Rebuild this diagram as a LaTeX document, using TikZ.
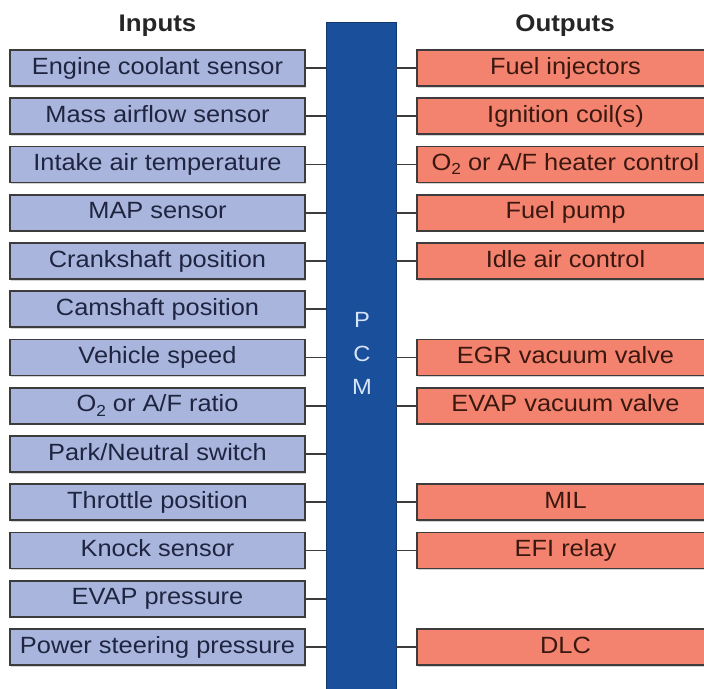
\documentclass[tikz,border=0pt]{standalone}
\usepackage{fontspec}
\setmainfont{Liberation Sans}[FakeStretch=1.08]
\usetikzlibrary{shadows}

\definecolor{infill}{HTML}{A9B5DD}
\definecolor{outfill}{HTML}{F3836E}
\definecolor{intext}{HTML}{1F2540}
\definecolor{outtext}{HTML}{3A1810}
\definecolor{edge}{HTML}{3C3C3C}
\definecolor{pcmblue}{HTML}{1A4F9C}
\definecolor{pcmtext}{HTML}{D6E4F7}

\newcommand{\boxfont}{\fontsize{23.5}{28}\selectfont}
\newcommand{\Osub}{O\raisebox{-0.35ex}{\fontsize{16}{16}\selectfont 2}}

\tikzset{
  boxbase/.style={rectangle, draw=edge, line width=1.6pt, inner sep=0pt,
    minimum height=36pt, text height=17pt, text depth=5pt, font=\boxfont,
    drop shadow={shadow xshift=0.6pt, shadow yshift=-1.6pt, opacity=0.35}},
  inbox/.style={boxbase, fill=infill, text=intext, minimum width=295pt},
  outbox/.style={boxbase, fill=outfill, text=outtext, minimum width=297pt},
  wire/.style={draw=edge, line width=1.7pt},
  title/.style={font=\fontsize{24}{28}\selectfont\bfseries, text=black!85},
  pcmletter/.style={font=\fontsize{22}{24}\selectfont, text=pcmtext},
}

\begin{document}
\begin{tikzpicture}[x=1pt, y=-1pt]
\useasboundingbox (0,0) rectangle (704,688);

% central control module bar
\node[rectangle, fill=pcmblue, draw=pcmblue!70!black, line width=0.8pt,
      minimum width=70pt, minimum height=690pt, inner sep=0pt, anchor=north]
      (pcm) at (361,22) {};
\node[pcmletter] (pcmP) at (362,320) {P};
\node[pcmletter] (pcmC) at (362,354) {C};
\node[pcmletter] (pcmM) at (362,387) {M};

% column headings
\node[title] (inhead) at (157.5,25.5) {Inputs};
\node[title] (outhead) at (565,25.5) {Outputs};

% sensor inputs
\foreach \i/\t in {0/{Engine coolant sensor}, 1/{Mass airflow sensor},
    2/{Intake air temperature}, 3/{MAP sensor}, 4/{Crankshaft position},
    5/{Camshaft position}, 6/{Vehicle speed}, 7/{\Osub{} or A/F ratio},
    8/{Park/Neutral switch}, 9/{Throttle position}, 10/{Knock sensor},
    11/{EVAP pressure}, 12/{Power steering pressure}} {
  \node[inbox] (in\i) at (157.5,{68+48.25*\i}) {\t};
  \draw[wire] (in\i.east) -- (in\i.east -| pcm.west);
}

% actuator outputs
\foreach \i/\t in {0/{Fuel injectors}, 1/{Ignition coil(s)},
    2/{\Osub{} or A/F heater control}, 3/{Fuel pump}, 4/{Idle air control},
    6/{EGR vacuum valve}, 7/{EVAP vacuum valve}, 9/{MIL}, 10/{EFI relay},
    12/{DLC}} {
  \node[outbox] (out\i) at (565.5,{68+48.25*\i}) {\t};
  \draw[wire] (out\i.west) -- (out\i.west -| pcm.east);
}
\end{tikzpicture}
\end{document}
